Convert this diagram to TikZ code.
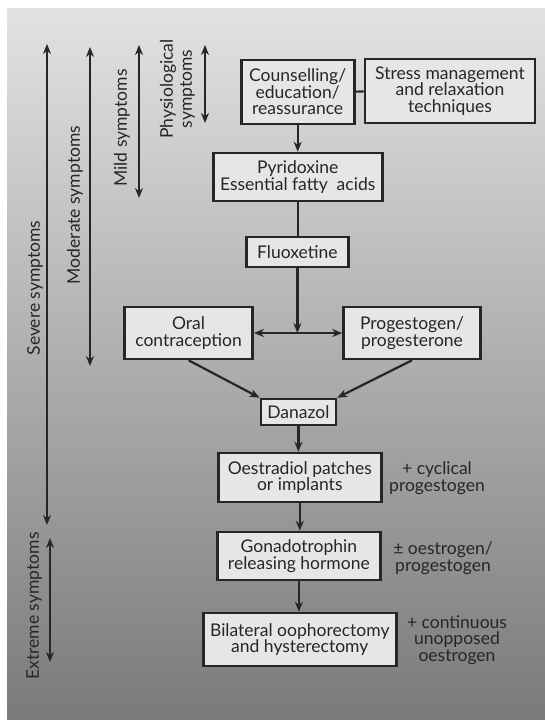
\documentclass[tikz,border=0pt]{standalone}
\usepackage{fontspec}
\setmainfont{Lato}
\usetikzlibrary{arrows.meta,positioning}
\definecolor{INK}{HTML}{262626}
\definecolor{BOXF}{HTML}{E6E6E6}
\definecolor{BGTOP}{HTML}{E2E2E2}
\definecolor{BGBOT}{HTML}{7A7A7A}

\begin{document}
\begin{tikzpicture}[x=1pt,y=-1pt]
\tikzset{bx/.style={draw=INK,line width=2.6pt,fill=BOXF,text=INK,align=center,inner sep=1pt,font=\fontsize{17.5}{16.5}\selectfont},
 ar/.style={-{Stealth[length=10pt,width=8pt]},line width=2.2pt,INK},
 dar/.style={{Stealth[length=10pt,width=8pt]}-{Stealth[length=10pt,width=8pt]},line width=2.2pt,INK},
 ln/.style={line width=2.2pt,INK},
 note/.style={text=INK,align=center,font=\fontsize{17.5}{16.5}\selectfont},
 side/.style={text=INK,rotate=90,align=center,font=\fontsize{17.5}{19}\selectfont}}
\useasboundingbox (0,0) rectangle (545,720);
\fill[white] (0,0) rectangle (545,720);
\shade[top color=BGTOP,bottom color=BGBOT] (7,8) rectangle (545,720);
% treatment boxes
\node[bx,minimum width=113pt,minimum height=64pt] (couns) at (297.7,92) {Counselling/\\education/\\reassurance};
\node[bx,minimum width=170pt,minimum height=64pt] (stress) at (450,91) {Stress management\\and relaxation\\techniques};
\node[bx,minimum width=169pt,minimum height=48pt] (pyrid) at (297.7,177) {Pyridoxine\\Essential fatty\ \ acids};
\node[bx,minimum width=102pt,minimum height=30pt] (fluox) at (297.4,252) {Fluoxetine};
\node[bx,minimum width=128pt,minimum height=52pt] (oral) at (188.6,333) {Oral\\contraception};
\node[bx,minimum width=137pt,minimum height=52pt] (proge) at (412,333) {Progestogen/\\progesterone};
\node[bx,minimum width=75pt,minimum height=26pt] (danaz) at (298.4,412) {Danazol};
\node[bx,minimum width=163pt,minimum height=49pt] (oestr) at (299.8,477.5) {Oestradiol patches\\or implants};
\node[bx,minimum width=163pt,minimum height=48pt] (gonad) at (298.9,556) {Gonadotrophin\\releasing hormone};
\node[bx,minimum width=193pt,minimum height=53pt] (bilat) at (299.8,639.5) {Bilateral oophorectomy\\and hysterectomy};
% add-on notes
\node[note] (cycl) at (437,478) {+ cyclical\\progestogen};
\node[note] (plusm) at (443,558) {± oestrogen/\\progestogen};
\node[note] (cont) at (457,640) {+ continuous\\unopposed\\oestrogen};
% connectors
\coordinate (junc) at (fluox.south |- oral.east);
\draw[ln] (couns) -- (stress);
\draw[ar] (couns) -- (couns.south |- pyrid.north);
\draw[ln] (pyrid) -- (pyrid.south |- fluox.north);
\draw[ar] (fluox) -- (junc);
\draw[dar] (oral) -- (proge);
\draw[ar] (oral.south) -- (danaz.north west);
\draw[ar] (proge.south) -- (danaz.north east);
\draw[ar] (danaz) -- (danaz.south |- oestr.north);
\draw[ar] (oestr) -- (oestr.south |- gonad.north);
\draw[ar] (gonad) -- (gonad.south |- bilat.north);
% severity ranges
\coordinate (physT) at (205,45); \coordinate (physB) at (205,123);
\coordinate (mildT) at (139,45); \coordinate (mildB) at (139,198);
\coordinate (modT) at (90,47); \coordinate (modB) at (90,366);
\coordinate (sevT) at (47,44); \coordinate (sevB) at (47,525);
\coordinate (extT) at (50,538); \coordinate (extB) at (50,662);
\draw[dar] (physT) -- (physB);
\draw[dar] (mildT) -- (mildB);
\draw[dar] (modT) -- (modB);
\draw[dar] (sevT) -- (sevB);
\draw[dar] (extT) -- (extB);
\node[side] (physL) at (177.5,89) {Physiological\\symptoms};
\node[side] (mildL) at (122,128) {Mild symptoms};
\node[side] (modL) at (75,205) {Moderate symptoms};
\node[side] (sevL) at (35,288) {Severe symptoms};
\node[side] (extL) at (34,606) {Extreme symptoms};
\end{tikzpicture}
\end{document}
